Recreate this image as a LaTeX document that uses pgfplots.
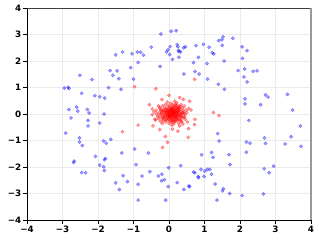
\documentclass[border=0pt]{standalone}
\usepackage{pgfplots}
\pgfplotsset{compat=1.18}
\usepackage{fontspec}
\setmainfont{DejaVu Sans}
\begin{document}
\begin{tikzpicture}[x=1bp,y=1bp]
\useasboundingbox (0,0) rectangle (319,242);
\begin{axis}[
  at={(27bp,22bp)}, anchor=south west,
  scale only axis, width=284bp, height=212bp,
  xmin=-4, xmax=4, ymin=-4, ymax=4,
  xtick={-4,...,4}, ytick={-4,...,4},
  xticklabels={−4,−3,−2,−1,0,1,2,3,4},
  yticklabels={−4,−3,−2,−1,0,1,2,3,4},
  xtick pos=bottom, ytick pos=left,
  tick align=outside, major tick length=4bp,
  tick style={black, line width=0.8bp},
  ticklabel style={font=\bfseries\fontsize{8.8}{10}\selectfont, inner sep=1.5bp},
  grid=major, grid style={color=black!8, line width=0.7bp},
  axis line style={draw=none},
  clip=false,
]
\addplot[only marks, mark=*, mark size=1.7bp, color=blue, mark options={fill opacity=0.38, draw opacity=0.38}] coordinates {
(-0.50,2.52) (-1.50,2.23) (-1.31,2.34) (-1.04,2.27) (-0.89,2.34) (-0.80,2.33) (-0.72,2.22) (-0.87,1.94)
(-1.08,1.75) (-1.66,1.64) (-1.46,1.63) (-1.58,1.46) (-1.41,1.33) (-1.00,1.32) (-2.51,1.46) (-2.17,1.30)
(-2.95,0.98) (-2.84,1.01) (-2.82,0.96) (-2.46,0.78) (-1.70,0.99) (-1.35,0.93) (-2.09,0.69) (-1.95,0.65)
(-1.81,0.60) (-2.82,0.17) (-2.60,0.26) (-2.57,0.11) (-2.30,0.17) (-2.25,0.04) (-1.83,0.00) (-2.76,-0.15)
(-2.28,-0.24)
(-0.23,3.02) (0.06,3.12) (0.20,3.14) (-0.25,1.79) (0.03,2.54) (0.23,2.62) (0.25,2.54) (0.27,2.40)
(0.33,2.34) (0.28,2.36) (0.41,2.50) (0.46,2.54) (-0.07,2.34) (-0.03,2.42) (0.02,2.24) (0.10,2.06)
(0.28,2.14) (0.76,2.58) (0.97,2.63) (1.13,2.52) (1.40,2.77) (1.49,2.80) (1.52,2.91) (1.50,2.59)
(1.80,2.86) (1.22,2.31) (1.26,2.27) (2.06,2.54) (2.20,2.39) (0.83,2.14) (0.69,1.94) (1.07,1.90)
(1.55,2.00) (2.07,2.10) (0.42,1.51) (0.73,1.60) (0.85,1.51) (1.09,1.32) (1.39,1.12) (1.56,0.93)
(1.95,1.64) (2.13,1.70) (2.37,1.61) (2.48,1.63) (2.11,1.40) (2.20,1.21) (2.14,0.57) (2.14,0.38)
(2.58,0.35) (2.72,0.72) (2.79,0.64) (3.34,0.74) (3.48,0.15) (2.25,-0.24)
(-2.91,-0.72) (-2.52,-0.90) (-2.52,-1.06) (-2.44,-1.19) (-2.28,-0.45) (-1.95,-0.34) (-1.84,-1.02) (-1.77,-1.10)
(-1.64,-0.96) (-2.07,-1.60) (-1.95,-1.93) (-1.84,-1.99) (-1.82,-2.13) (-1.82,-1.73) (-1.79,-1.68) (-1.33,-1.47)
(-0.97,-1.32) (-0.93,-1.91) (-0.58,-1.47) (-2.67,-1.78) (-2.69,-1.83) (-2.46,-2.21) (-2.35,-2.22) (-1.50,-2.60)
(-1.40,-2.85) (-1.29,-2.33) (-1.17,-2.55) (-0.87,-2.65) (-0.76,-2.34) (-0.54,-2.18) (-0.30,-2.34) (-0.87,-3.25)
(3.70,-0.45) (1.37,-0.74) (1.41,-1.02) (2.18,-1.06) (2.28,-1.10) (2.69,-0.90) (2.72,-1.11) (3.44,-0.86)
(3.27,-1.13) (3.72,-1.22) (0.92,-1.54) (1.20,-1.45) (1.24,-1.64) (1.69,-1.53) (2.18,-1.44) (1.72,-1.91)
(0.33,-1.95) (-0.01,-2.03) (-0.20,-2.27) (-0.21,-2.52) (-0.13,-2.48) (0.23,-2.59) (0.69,-2.19) (0.73,-2.22)
(0.82,-2.36) (0.83,-2.40) (0.90,-2.09) (1.01,-2.15) (0.99,-2.36) (1.08,-2.09) (1.15,-2.09) (1.20,-2.27)
(1.30,-2.64) (1.53,-2.82) (1.51,-2.90) (1.71,-3.00) (1.35,-3.25) (2.06,-3.08) (2.66,-3.02) (2.68,-2.07)
(2.82,-2.22) (2.95,-1.97) (-0.02,-2.74) (0.42,-2.85) (0.58,-2.74) (0.56,-2.72) (-0.09,-3.25)
};
\addplot[only marks, mark=*, mark size=1.7bp, color=red, mark options={fill opacity=0.38, draw opacity=0.38}] coordinates {
(0.05,0.02) (0.12,-0.05) (-0.03,0.08) (0.18,0.10) (-0.10,-0.06) (0.22,-0.12) (0.01,-0.15) (0.30,0.04) (-0.18,0.12) (0.09,0.20)
(-0.05,-0.22) (0.26,0.18) (0.15,-0.20) (-0.22,-0.02) (0.35,-0.08) (-0.12,0.22) (0.02,0.28) (0.20,0.26) (-0.28,0.05) (0.40,0.12)
(0.08,-0.30) (-0.15,-0.18) (0.32,-0.22) (0.11,0.07) (-0.01,-0.04) (0.14,0.13) (0.06,-0.10) (-0.08,0.15) (0.24,0.00) (0.17,-0.08)
(-0.20,-0.15) (0.28,-0.15) (0.03,0.16) (-0.14,0.04) (0.38,0.22) (-0.25,0.20) (0.45,-0.02) (-0.32,-0.10) (0.10,0.35) (0.00,-0.35)
(0.21,0.32) (-0.09,-0.30) (0.36,-0.30) (-0.24,-0.28) (0.48,0.15) (0.13,-0.38) (-0.36,0.14) (0.43,0.30) (-0.18,0.30) (0.27,-0.35)
(0.07,0.11) (0.16,0.03) (-0.04,-0.12) (0.19,-0.15) (0.04,0.22) (-0.11,-0.10) (0.33,0.10) (0.09,-0.18) (-0.06,0.03) (0.25,0.09)
(0.12,0.25) (-0.17,-0.08) (0.29,-0.04) (0.00,0.10) (0.14,-0.12) (-0.02,0.19) (0.23,-0.24) (-0.13,0.10) (0.37,0.03) (0.06,-0.24)
(-0.07,-0.17) (0.31,0.27) (0.18,-0.28) (-0.21,0.08) (0.41,-0.14) (0.10,0.15) (0.02,-0.06) (-0.16,-0.25) (0.26,0.22) (0.15,0.30)
(-0.29,-0.18) (0.50,0.05) (-0.26,0.25) (0.05,0.40) (0.34,0.35) (-0.10,0.35) (0.22,0.42) (-0.35,0.00) (0.46,-0.20) (0.08,-0.42)
(-0.19,-0.36) (0.39,-0.38) (0.55,0.20) (-0.40,-0.20) (0.30,-0.45) (-0.05,0.45) (0.52,-0.30) (-0.30,0.30) (0.16,0.48) (-0.42,0.08)
(0.11,-0.01) (0.19,0.05) (0.00,0.04) (0.08,0.06) (0.13,-0.03) (0.04,-0.02) (0.21,0.14) (-0.04,0.13) (0.17,0.19) (0.27,-0.09)
(0.09,0.02) (0.15,0.08) (0.02,-0.09) (0.20,-0.02) (-0.07,0.06) (0.24,0.12) (0.06,0.14) (0.12,-0.14) (-0.02,0.00) (0.18,-0.04)
(0.03,0.05) (0.10,-0.08) (-0.05,-0.02) (0.16,0.16) (0.22,0.06) (-0.09,0.10) (0.07,-0.16) (0.28,0.12) (0.13,0.10) (0.01,0.12)
(-0.12,-0.02) (0.34,-0.02) (0.20,-0.18) (-0.01,-0.20) (0.09,0.27) (0.26,-0.20) (-0.15,0.16) (0.31,0.18) (0.05,-0.05) (0.14,0.02)
(-0.20,0.02) (0.39,0.06) (0.11,0.19) (0.23,-0.06) (-0.06,0.22) (0.17,-0.24) (0.03,-0.27) (0.29,0.24) (-0.10,-0.22) (0.36,-0.14)
(0.08,0.09) (0.19,-0.10) (-0.03,-0.08) (0.25,0.04) (0.12,0.04) (0.06,0.18) (0.00,-0.12) (0.21,0.21) (-0.16,-0.12) (0.32,-0.08)
(0.14,-0.30) (-0.23,0.14) (0.42,0.04) (0.18,0.36) (-0.02,0.32) (0.33,-0.26) (-0.27,-0.08) (0.44,-0.10) (0.10,-0.24) (0.27,0.30)
(-0.97,1.03) (-0.37,0.95) (0.72,1.31) (0.58,0.48) (1.25,0.06) (1.41,-0.06) (0.73,-0.20) (-1.31,-0.67) (-0.87,-0.42) (0.54,-0.88)
(-0.04,-1.07) (-0.18,-1.26) (-0.10,-0.85) (0.00,0.70) (-0.47,0.19) (-0.47,-0.03) (-0.38,-0.22) (-0.26,-0.59) (0.10,-0.57) (0.72,-0.40)
(0.62,0.15) (-0.55,0.35) (0.40,0.55) (0.30,0.62) (-0.20,0.55) (0.55,-0.55) (-0.45,-0.45) (0.25,-0.65)
};
\draw[black, line width=0.8bp] (rel axis cs:0,0) -- (rel axis cs:1,0);
\draw[black, line width=0.8bp] (rel axis cs:0,0) -- (rel axis cs:0,1);
\draw[black!75, line width=0.8bp] (rel axis cs:0,1) -- (rel axis cs:1,1);
\draw[black!40, line width=1.8bp] (rel axis cs:1,0) -- (rel axis cs:1,1);
\end{axis}
\end{tikzpicture}
\end{document}
